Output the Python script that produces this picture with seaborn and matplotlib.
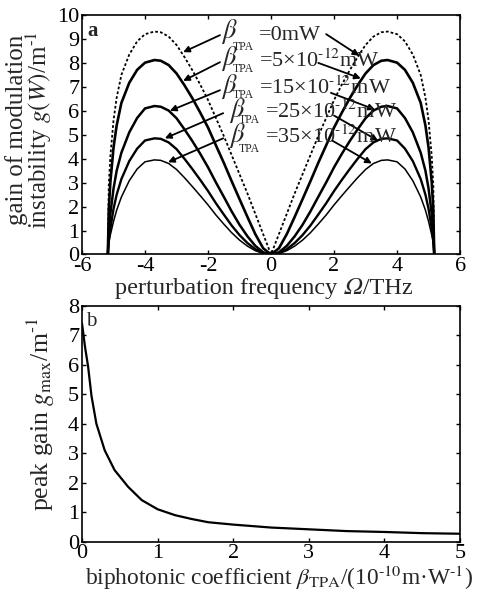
import matplotlib
matplotlib.use('Agg')
import numpy as np
import pandas as pd
import matplotlib.pyplot as plt
import seaborn as sns

# panel a: half spectrum (curves are symmetric about 0)
omega_half = [0, 0.25, 0.5, 0.75, 1.0, 1.25, 1.5, 1.75, 2.0, 2.25, 2.5, 2.75,
              3.0, 3.25, 3.5, 3.7, 4.0, 4.25, 4.5, 4.75, 4.9, 5.0, 5.1, 5.15, 5.18]
gain_0 = [0, 0.85, 1.7, 2.55, 3.35, 4.15, 4.95, 5.7, 6.45, 7.1, 7.7, 8.25,
          8.75, 9.1, 9.28, 9.31, 9.2, 8.9, 8.35, 7.5, 6.55, 5.6, 4.1, 2.9, 0]
gain_5 = [0, 0.26, 0.85, 1.57, 2.31, 3.06, 3.83, 4.56, 5.30, 5.93, 6.53, 7.07,
          7.56, 7.91, 8.09, 8.12, 8.01, 7.71, 7.17, 6.33, 5.39, 4.46, 3.02, 1.89, 0]
gain_15 = [0, 0.09, 0.36, 0.76, 1.24, 1.80, 2.41, 3.01, 3.64, 4.21, 4.74, 5.23,
           5.69, 6.01, 6.17, 6.20, 6.10, 5.70, 5.10, 4.25, 3.50, 2.75, 1.70, 0.98, 0]
gain_25 = [0, 0.06, 0.22, 0.48, 0.81, 1.21, 1.67, 2.14, 2.65, 3.12, 3.57, 4.00,
           4.40, 4.68, 4.83, 4.85, 4.76, 4.42, 3.90, 3.15, 2.50, 1.90, 1.08, 0.62, 0]
gain_35 = [0, 0.04, 0.16, 0.35, 0.60, 0.91, 1.27, 1.65, 2.07, 2.46, 2.84, 3.21,
           3.55, 3.80, 3.93, 3.95, 3.87, 3.57, 3.08, 2.40, 1.85, 1.38, 0.82, 0.46, 0]
curve_names = ['0', '5', '15', '25', '35']
curve_labels = [r'=0mW', r'=5×10$^{\text{-12}}$mW', r'=15×10$^{\text{-12}}$mW',
                r'=25×10$^{\text{-12}}$mW', r'=35×10$^{\text{-12}}$mW']

# panel b
beta_tpa = [0, 0.04, 0.08, 0.125, 0.19, 0.3, 0.43, 0.61, 0.79, 1.0, 1.23, 1.45,
            1.67, 2.0, 2.5, 3.0, 3.5, 4.0, 4.5, 5.0]
peak_gain = [7.4, 6.6, 5.95, 4.95, 4.0, 3.1, 2.43, 1.86, 1.41, 1.1, 0.9, 0.77,
             0.66, 0.58, 0.48, 0.42, 0.36, 0.33, 0.29, 0.27]

sns.set_style('ticks')
plt.rcParams['font.family'] = ['Liberation Serif', 'STIXGeneral', 'DejaVu Serif']
plt.rcParams['mathtext.fontset'] = 'stix'
plt.rcParams['axes.unicode_minus'] = False
plt.rcParams['font.size'] = 15

frames = []
for name, g in zip(curve_names, [gain_0, gain_5, gain_15, gain_25, gain_35]):
    om = [-w for w in omega_half[:0:-1]] + omega_half
    gg = g[:0:-1] + g
    frames.append(pd.DataFrame({'omega': om, 'gain': gg, 'curve': name}))
df_a = pd.concat(frames, ignore_index=True)
df_b = pd.DataFrame({'beta': beta_tpa, 'gmax': peak_gain})

styles = {'0': (1.3, (0, (1.5, 1.2))), '5': (1.9, '-'), '15': (1.8, '-'),
          '25': (1.7, '-'), '35': (1.1, '-')}

fig = plt.figure(figsize=(4.81, 5.91), dpi=100)
ax1 = fig.add_axes([0.1705, 0.5694, 0.786, 0.4052])
ax2 = fig.add_axes([0.1705, 0.0834, 0.786, 0.3993])

for name in curve_names:
    lw, ls = styles[name]
    sns.lineplot(data=df_a[df_a['curve'] == name], x='omega', y='gain', ax=ax1,
                 color='k', lw=lw, linestyle=ls, estimator=None, sort=False,
                 legend=False)

sns.lineplot(data=df_b, x='beta', y='gmax', ax=ax2, color='k', lw=1.6,
             estimator=None, legend=False)

# labels with arrows
eq_xy = [(-0.38, 8.96), (-0.38, 7.84), (-0.38, 6.69), (-0.19, 5.69), (-0.19, 4.64)]
beta_xy = [(-1.59, 9.02), (-1.59, 7.90), (-1.59, 6.75), (-1.33, 5.75), (-1.33, 4.70)]
tpa_xy = [(-1.21, 8.54), (-1.21, 7.63), (-1.21, 6.52), (-1.01, 5.48), (-1.01, 4.29)]
left_arrows = [((-1.62, 9.16), (-2.79, 8.45)), ((-1.62, 8.03), (-2.79, 7.25)),
               ((-1.62, 6.86), (-3.21, 6.0)), ((-1.52, 5.9), (-3.37, 4.85)),
               ((-1.52, 4.85), (-3.27, 3.85))]
right_arrows = [((1.75, 9.2), (2.8, 8.3)), ((1.5, 8.0), (2.85, 7.35)),
                ((1.9, 6.75), (3.3, 6.05)), ((2.0, 5.8), (3.4, 4.75)),
                ((1.95, 4.75), (3.2, 3.8))]
arrow_kw = dict(arrowstyle='-|>', color='k', lw=1.3, mutation_scale=9,
                shrinkA=0, shrinkB=0)
for i, lab in enumerate(curve_labels):
    ax1.text(*beta_xy[i], r'$\beta$', fontsize=19, va='baseline', ha='left')
    ax1.text(*tpa_xy[i], 'TPA', fontsize=8.5, va='baseline', ha='left')
    ax1.text(*eq_xy[i], lab, fontsize=16, va='baseline', ha='left')
    ax1.annotate('', xy=left_arrows[i][1], xytext=left_arrows[i][0], arrowprops=arrow_kw)
    ax1.annotate('', xy=right_arrows[i][1], xytext=right_arrows[i][0], arrowprops=arrow_kw)

ax1.set_xlim(-6, 6)
ax1.set_ylim(0, 10)
ax1.set_xticks(range(-6, 7, 2))
ax1.set_yticks(range(0, 11))
ax1.set_xlabel('perturbation frequency \U0001D6FA/THz', fontsize=17.5)
ax1.set_ylabel('gain of modulation\ninstability $g(W)$/m$^{\\text{-1}}$', fontsize=18,
               linespacing=0.8)
ax1.xaxis.set_label_coords(0.48, -0.1)
ax1.yaxis.set_label_coords(-0.075, 0.52)
ax1.text(0.015, 0.975, 'a', transform=ax1.transAxes, fontsize=15,
         fontweight='bold', va='top', ha='left')

ax2.set_xlim(0, 5)
ax2.set_ylim(0, 8)
ax2.set_xticks(range(0, 6))
ax2.set_yticks(range(0, 9))
ax2.set_xlabel(r'biphotonic coefficient $\beta_{\rm TPA}$/(10$^{\text{-10}}$m·W$^{\text{-1}}$)',
               fontsize=16.8)
ax2.set_ylabel(r'peak gain $g_{\rm max}$/m$^{\text{-1}}$', fontsize=18.5)
ax2.xaxis.set_label_coords(0.52, -0.095)
ax2.yaxis.set_label_coords(-0.065, 0.54)
ax2.text(0.01, 0.975, 'b', transform=ax2.transAxes, fontsize=15,
         va='top', ha='left')

for ax in (ax1, ax2):
    ax.tick_params(direction='in', length=3, width=1, top=True, right=True,
                   labelsize=16, pad=2, colors='k')
    for s in ax.spines.values():
        s.set_visible(True)
        s.set_linewidth(1.2)
        s.set_color('k')

fig.savefig('out.png', dpi=100)
